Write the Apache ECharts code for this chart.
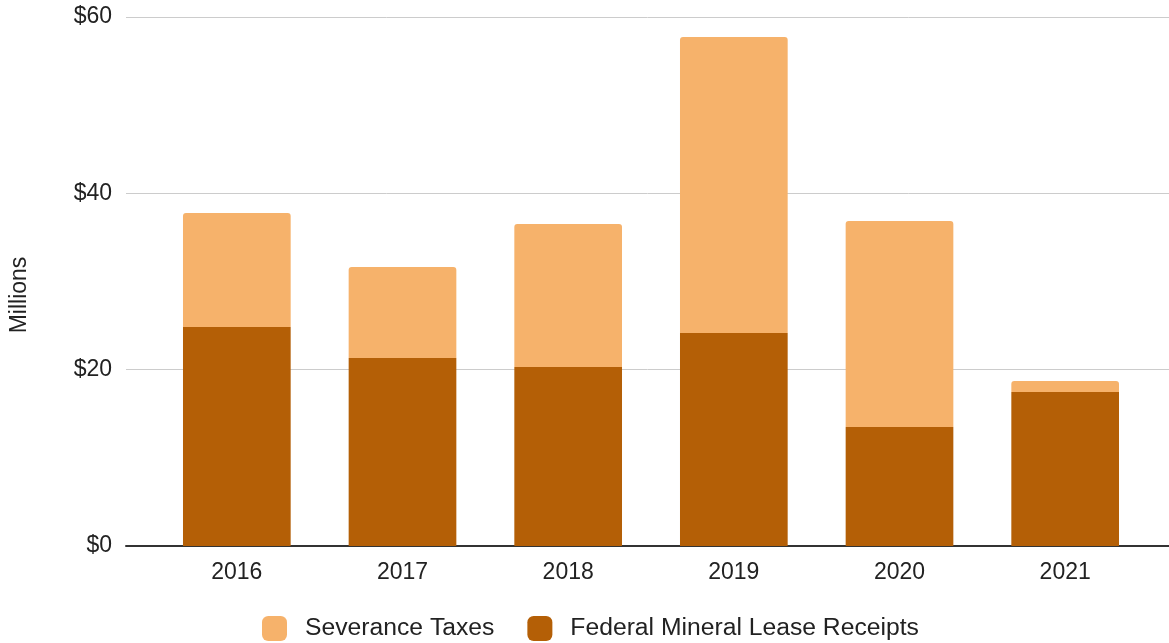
<!DOCTYPE html>
<html>
<head>
<meta charset="utf-8">
<script src="https://cdn.jsdelivr.net/npm/echarts@6/dist/echarts.min.js"></script>
<style>html,body{margin:0;padding:0;background:#fff}#c{width:1169px;height:643px}</style>
</head>
<body>
<div id="c"></div>
<script>
const years = ['2016','2017','2018','2019','2020','2021'];
const federal = [24.84, 21.32, 20.30, 24.16, 13.50, 17.47];
const severance = [12.93, 10.32, 16.22, 33.57, 23.36, 1.24];
const yTicks = [0, 20, 40, 60];

const FONT = 'Liberation Sans, Arial, sans-serif';
const chart = echarts.init(document.getElementById('c'));
chart.setOption({
  animation: false,
  textStyle: {fontFamily: FONT},
  grid: [
    {left: 126, right: 0, top: 17, bottom: 97},
    {left: 154, right: 21, top: 17, bottom: 97}
  ],
  legend: {
    data: ['Severance Taxes', 'Federal Mineral Lease Receipts'],
    top: 616, left: 262, padding: 0,
    itemWidth: 25, itemHeight: 25, itemGap: 33,
    icon: 'roundRect',
    textStyle: {fontSize: 24.7, color: '#222', fontFamily: FONT, padding: [0,0,0,13]}
  },
  graphic: [
    {type: 'text', x: 20, y: 295, rotation: Math.PI / 2,
     style: {text: 'Millions', fontSize: 23, fontFamily: FONT, fill: '#222',
              textAlign: 'center', textVerticalAlign: 'middle'}}
  ],
  xAxis: [
    {type: 'category', gridIndex: 0, data: years,
     axisLine: {show: true, lineStyle: {color: '#333', width: 2}},
     axisTick: {show: false}, axisLabel: {show: false}, splitLine: {show: false}},
    {type: 'category', gridIndex: 1, data: years,
     axisLine: {show: false}, axisTick: {show: false},
     axisLabel: {fontSize: 23, color: '#222', margin: 15, fontFamily: FONT}}
  ],
  yAxis: [
    {type: 'value', gridIndex: 0, min: yTicks[0], max: yTicks[yTicks.length-1], interval: 20,
     axisLine: {show: false}, axisTick: {show: false},
     axisLabel: {fontSize: 23, color: '#222', margin: 14, fontFamily: FONT, padding: [5,0,0,0],
                 formatter: v => '$' + v},
     splitLine: {lineStyle: {color: '#cccccc', width: 1}}},
    {type: 'value', gridIndex: 1, min: yTicks[0], max: yTicks[yTicks.length-1], interval: 20,
     show: false, splitLine: {show: false}}
  ],
  series: [
    {name: 'Federal Mineral Lease Receipts', type: 'bar', stack: 's', xAxisIndex: 1, yAxisIndex: 1,
     data: federal, barCategoryGap: '35%', itemStyle: {color: '#b45f06'}},
    {name: 'Severance Taxes', type: 'bar', stack: 's', xAxisIndex: 1, yAxisIndex: 1,
     data: severance, barCategoryGap: '35%', itemStyle: {color: '#f6b26b', borderRadius: [3,3,0,0]}}
  ]
});
</script>
</body>
</html>
